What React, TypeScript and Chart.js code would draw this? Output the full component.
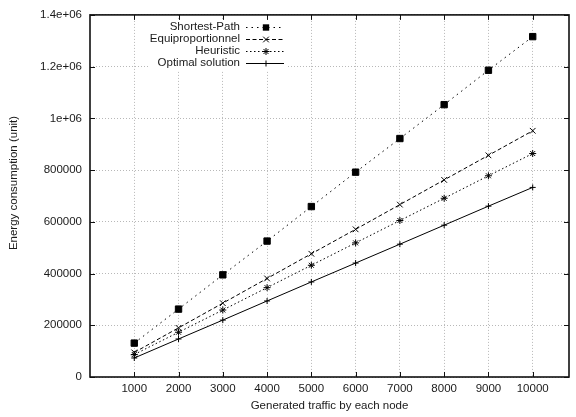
import React, { useEffect, useRef } from "react";
import { Chart, registerables } from "chart.js";

Chart.register(...registerables);

const xValues = [1000, 2000, 3000, 4000, 5000, 6000, 7000, 8000, 9000, 10000];
const shortestPath = [131000, 262500, 395000, 525500, 659000, 792000, 922000, 1053000, 1186000, 1316000];
const equiproportionnel = [95000, 190000, 285500, 381000, 476500, 571000, 666500, 762000, 857000, 952000];
const heuristic = [87000, 173000, 259000, 345500, 432000, 518500, 605000, 691000, 778000, 864000];
const optimal = [73500, 147000, 220000, 294000, 367500, 440500, 513500, 587000, 660500, 733000];

const seriesNames = ["Shortest-Path", "Equiproportionnel", "Heuristic", "Optimal solution"];
const yTickValues = [0, 200000, 400000, 600000, 800000, 1000000, 1200000, 1400000];
const yTickLabels = ["0", "200000", "400000", "600000", "800000", "1e+06", "1.2e+06", "1.4e+06"];
const xTitle = "Generated traffic by each node";
const yTitle = "Energy consumption (unit)";

const FONT = "'Liberation Sans', Arial, Helvetica, sans-serif";
const FS = 11.5;
const TEXT = "#1a1a1a";

const styles = [
  { dash: [1.5, 4], point: "rect", radius: 4.5, width: 1 },
  { dash: [4, 2.5], point: "crossRot", radius: 4, width: 1 },
  { dash: [1.5, 2.5], point: "star", radius: 3.5, width: 1 },
  { dash: [], point: "cross", radius: 3, width: 1 },
];

export default function App() {
  const ref = useRef<HTMLCanvasElement | null>(null);

  useEffect(() => {
    if (!ref.current) return;
    const seriesData = [shortestPath, equiproportionnel, heuristic, optimal];

    function drawMarker(ctx: CanvasRenderingContext2D, type: string, r: number, x: number, y: number) {
      ctx.beginPath();
      if (type === "rect") {
        const h = Math.SQRT1_2 * r;
        ctx.fillRect(x - h, y - h, 2 * h, 2 * h);
        return;
      }
      const c = Math.SQRT1_2 * r;
      if (type === "cross" || type === "star") {
        ctx.moveTo(x - r, y);
        ctx.lineTo(x + r, y);
        ctx.moveTo(x, y - r);
        ctx.lineTo(x, y + r);
      }
      if (type === "crossRot" || type === "star") {
        ctx.moveTo(x - c, y - c);
        ctx.lineTo(x + c, y + c);
        ctx.moveTo(x - c, y + c);
        ctx.lineTo(x + c, y - c);
      }
      ctx.stroke();
    }

    const framePlugin = {
      id: "frame",
      afterDraw(chart: any) {
        const { ctx, chartArea: a, scales } = chart;
        ctx.save();
        ctx.strokeStyle = "#111";
        ctx.lineWidth = 1;
        ctx.setLineDash([]);
        const tl = 5;
        ctx.beginPath();
        for (const v of xValues) {
          const x = Math.round(scales.x.getPixelForValue(v)) + 0.5;
          ctx.moveTo(x, a.top);
          ctx.lineTo(x, a.top + tl);
          ctx.moveTo(x, a.bottom);
          ctx.lineTo(x, a.bottom - tl);
        }
        for (const v of yTickValues) {
          const y = Math.round(scales.y.getPixelForValue(v)) + 0.5;
          ctx.moveTo(a.left, y);
          ctx.lineTo(a.left + tl, y);
          ctx.moveTo(a.right, y);
          ctx.lineTo(a.right - tl, y);
        }
        ctx.stroke();
        ctx.lineWidth = 1.6;
        ctx.strokeRect(a.left, a.top, a.right - a.left, a.bottom - a.top);
        ctx.fillStyle = TEXT;
        ctx.font = `${FS}px ${FONT}`;
        ctx.translate(14, 183);
        ctx.rotate(-Math.PI / 2);
        ctx.textAlign = "center";
        ctx.textBaseline = "middle";
        ctx.fillText(yTitle, 0, 0);
        ctx.restore();
      },
    };

    const legendPlugin = {
      id: "customLegend",
      afterDatasetsDraw(chart: any) {
        const { ctx } = chart;
        ctx.save();
        ctx.fillStyle = "#fff";
        ctx.fillRect(148, 19, 138, 51);
        const rows = [27, 39, 51, 63];
        ctx.font = `${FS}px ${FONT}`;
        ctx.textAlign = "right";
        ctx.textBaseline = "middle";
        seriesNames.forEach((name, i) => {
          const y = rows[i];
          ctx.fillStyle = TEXT;
          ctx.fillText(name, 240, y);
          const s = styles[i];
          ctx.strokeStyle = "#000";
          ctx.lineWidth = 1;
          ctx.setLineDash(s.dash);
          ctx.beginPath();
          ctx.moveTo(246, y + 0.5);
          ctx.lineTo(284, y + 0.5);
          ctx.stroke();
          ctx.setLineDash([]);
          ctx.fillStyle = "#000";
          drawMarker(ctx, s.point, s.radius, 266, y + 0.5);
        });
        ctx.restore();
      },
    };

    const chart = new Chart(ref.current, {
      type: "line",
      data: {
        datasets: seriesData.map((arr, i) => ({
          label: seriesNames[i],
          data: arr.map((v, j) => ({ x: xValues[j], y: v })),
          borderColor: "#000",
          backgroundColor: "#000",
          borderWidth: styles[i].width,
          borderDash: styles[i].dash,
          pointStyle: styles[i].point as any,
          pointRadius: styles[i].radius,
          pointBorderWidth: 1,
          pointBorderColor: "#000",
          pointBackgroundColor: "#000",
          fill: false,
          tension: 0,
        })),
      },
      options: {
        animation: false,
        responsive: false,
        maintainAspectRatio: false,
        layout: { padding: { left: 0, top: 9, right: 7, bottom: 0 } },
        plugins: {
          legend: { display: false },
          tooltip: { enabled: false },
        },
        scales: {
          x: {
            type: "linear",
            min: 0,
            max: 10820,
            afterBuildTicks: (scale: any) => {
              scale.ticks = xValues.map((v) => ({ value: v }));
            },
            afterFit: (scale: any) => {
              scale.height = 40;
            },
            ticks: {
              autoSkip: false,
              maxRotation: 0,
              padding: 5,
              color: TEXT,
              font: { family: FONT, size: FS },
              callback: (v: any) => String(v),
            },
            grid: {
              drawTicks: false,
              color: "#b8b8b8",
              lineWidth: 1,
            },
            border: { display: false, dash: [1, 2] },
            title: {
              display: true,
              text: xTitle,
              color: TEXT,
              font: { family: FONT, size: FS },
              padding: { top: 0, bottom: 4 },
            },
          },
          y: {
            type: "linear",
            min: 0,
            max: 1400000,
            afterBuildTicks: (scale: any) => {
              scale.ticks = yTickValues.map((v) => ({ value: v }));
            },
            afterFit: (scale: any) => {
              scale.width = 90;
            },
            ticks: {
              autoSkip: false,
              padding: 8,
              color: TEXT,
              font: { family: FONT, size: FS },
              callback: (v: any) => {
                const idx = yTickValues.indexOf(Number(v));
                return idx >= 0 ? yTickLabels[idx] : "";
              },
            },
            grid: {
              drawTicks: false,
              color: "#b8b8b8",
              lineWidth: 1,
            },
            border: { display: false, dash: [1, 2] },
          },
        },
      },
      plugins: [legendPlugin, framePlugin],
    } as any);

    return () => chart.destroy();
  }, []);

  return (
    <div style={{ position: "absolute", left: 0, top: 0, width: 576, height: 417, background: "#fff" }}>
      <canvas ref={ref} width={576} height={417} style={{ display: "block" }} />
    </div>
  );
}
